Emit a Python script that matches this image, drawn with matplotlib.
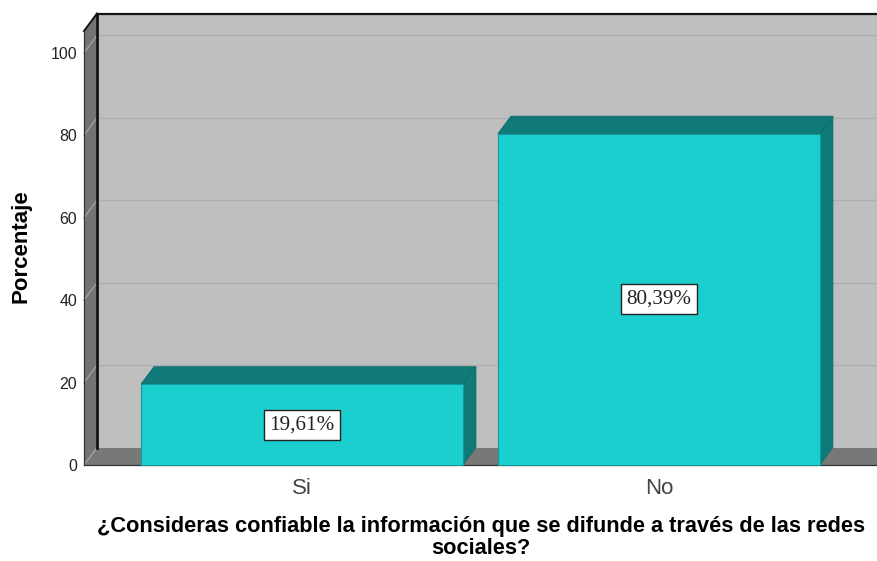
import matplotlib
matplotlib.use("Agg")
import matplotlib.pyplot as plt
from matplotlib.patches import Polygon

categories = ["Si", "No"]
values = [19.61, 80.39]
value_labels = ["19,61%", "80,39%"]
y_ticks = [0, 20, 40, 60, 80, 100]

BAR_FRONT = "#1CCFCF"
BAR_DARK = "#107A78"
WALL = "#BFBFBF"
SIDE = "#737373"
FLOOR = "#787878"
GRID = "#AEAEAE"
SIDE_GRID = "#A0A0A0"

W, H = 877, 561
X_MIN, X_MAX = -0.6106, 1.611
Y_TOP = 105.3
DX = 13 / 357          # depth of the 3D box in x units
DY = 17.5 / 4.13       # depth of the 3D box in y units
BAR_WIDTH = 0.902

plt.rcParams["font.family"] = ["Liberation Sans", "DejaVu Sans"]

fig = plt.figure(figsize=(W / 100, H / 100), dpi=100)
ax = fig.add_axes([84 / W, 1 - 465 / H, (W - 84) / W, (465 - 31) / H])
ax.set_xlim(X_MIN, X_MAX)
ax.set_ylim(0, Y_TOP)
for s in ax.spines.values():
    s.set_visible(False)
ax.patch.set_visible(False)

def face(points, color, z, edge="none", lw=0):
    ax.add_patch(Polygon(points, closed=True, facecolor=color, edgecolor=edge,
                         linewidth=lw, zorder=z, clip_on=False))

# back wall, side wall and floor
face([(X_MIN + DX, DY), (X_MAX + 1, DY), (X_MAX + 1, Y_TOP + DY), (X_MIN + DX, Y_TOP + DY)], WALL, 1)
face([(X_MIN, 0), (X_MIN + DX, DY), (X_MIN + DX, Y_TOP + DY), (X_MIN, Y_TOP)], SIDE, 1)
face([(X_MIN, 0), (X_MAX + 1, 0), (X_MAX + 1, DY), (X_MIN + DX, DY)], FLOOR, 1)

# grid lines, carried over the side wall
for t in y_ticks[1:]:
    ax.plot([X_MIN + DX, X_MAX], [t + DY, t + DY], color=GRID, lw=1.0, zorder=2, clip_on=False)
    ax.plot([X_MIN, X_MIN + DX], [t, t + DY], color=SIDE_GRID, lw=1.0, zorder=2, clip_on=False)
ax.plot([X_MIN, X_MIN + DX], [0, DY], color=SIDE_GRID, lw=1.0, zorder=2)

# box outline
ax.plot([X_MIN + DX, X_MIN + DX], [DY, Y_TOP + DY], color="#151515", lw=2.0, zorder=3, clip_on=False)
ax.plot([X_MIN + DX, X_MAX], [Y_TOP + DY, Y_TOP + DY], color="#151515", lw=1.6, zorder=3, clip_on=False)
ax.plot([X_MIN, X_MIN + DX], [Y_TOP, Y_TOP + DY], color="#151515", lw=1.4, zorder=3, clip_on=False)
ax.plot([X_MIN, X_MIN], [0, Y_TOP], color="#333333", lw=0.9, zorder=3, clip_on=False)
ax.plot([X_MIN, X_MAX], [0, 0], color="#333333", lw=0.9, zorder=3, clip_on=False)

# bars
positions = list(range(len(categories)))
bars = ax.bar(positions, values, width=BAR_WIDTH, color=BAR_FRONT, edgecolor="#129A9A", linewidth=0.8, zorder=5)
for b in bars:
    b.set_clip_on(False)
for x, v, label in zip(positions, values, value_labels):
    left, right = x - BAR_WIDTH / 2, x + BAR_WIDTH / 2
    face([(left, v), (right, v), (right + DX, v + DY), (left + DX, v + DY)], BAR_DARK, 4, "#0E6E6C", 0.6)
    face([(right, 0), (right + DX, DY), (right + DX, v + DY), (right, v)], BAR_DARK, 4, "#0E6E6C", 0.6)
    ax.text(x, v / 2, label, ha="center", va="center", fontsize=15.2, family="Liberation Serif",
            color="#222222", zorder=6,
            bbox=dict(boxstyle="square,pad=0.26", facecolor="white", edgecolor="#222222", linewidth=1))

ax.set_xticks(positions, categories, fontsize=16, color="#444444")
ax.set_yticks(y_ticks, [str(t) for t in y_ticks], fontsize=11.4, color="#222222")
ax.tick_params(axis="both", length=0)
ax.tick_params(axis="x", pad=9.5)
ax.tick_params(axis="y", pad=5)

fig.text(21 / W, 1 - 246 / H, "Porcentaje", rotation=90, ha="center", va="center",
         fontsize=16, fontweight="bold", color="black")
fig.text(481 / W, 1 - 559 / H,
         "¿Consideras confiable la información que se difunde a través de las redes\nsociales?",
         ha="center", va="bottom", fontsize=15.7, fontweight="bold", color="black", linespacing=1.05)

fig.savefig("out.png", dpi=100, facecolor="white")
